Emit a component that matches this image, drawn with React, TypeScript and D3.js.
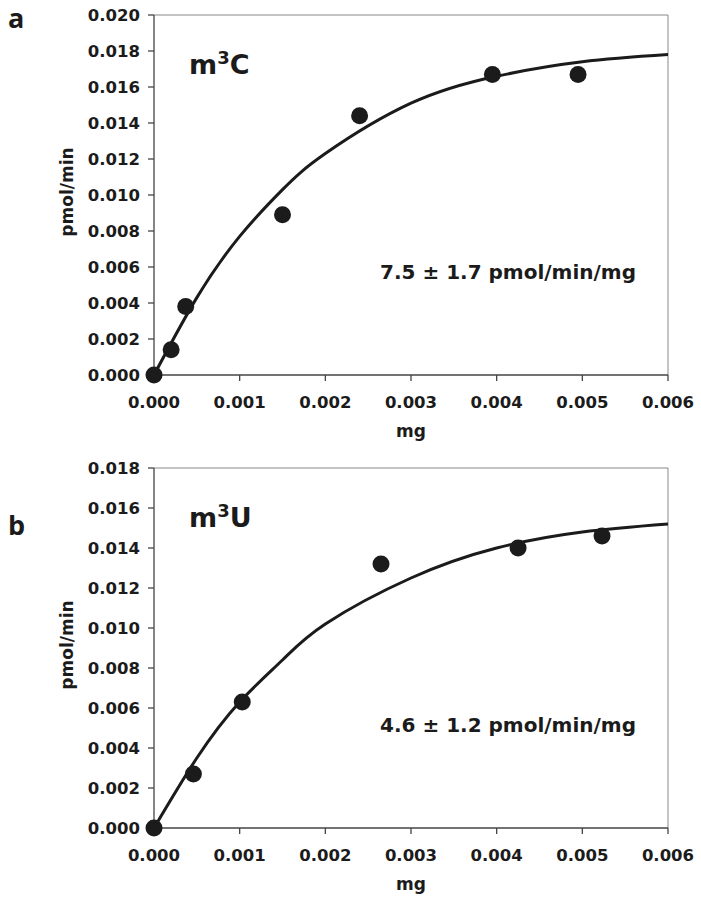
import React from "react";
import * as d3 from "d3";

// panel a: m3C
const massA = [0, 0.0002, 0.00037, 0.0015, 0.0024, 0.00395, 0.00495];
const rateA = [0, 0.0014, 0.0038, 0.0089, 0.0144, 0.0167, 0.0167];
const fitMassA = [0, 0.0005, 0.001, 0.0015, 0.002, 0.003, 0.004, 0.005, 0.006];
const fitRateA = [0, 0.0043, 0.0077, 0.0103, 0.0123, 0.0151, 0.0166, 0.0174, 0.0178];
const yTicksA = [0, 0.002, 0.004, 0.006, 0.008, 0.01, 0.012, 0.014, 0.016, 0.018, 0.02];

// panel b: m3U
const massB = [0, 0.00046, 0.00103, 0.00265, 0.00425, 0.00523];
const rateB = [0, 0.0027, 0.0063, 0.0132, 0.014, 0.0146];
const fitMassB = [0, 0.0005, 0.001, 0.0015, 0.002, 0.003, 0.004, 0.005, 0.006];
const fitRateB = [0, 0.0035, 0.0063, 0.0084, 0.0102, 0.0125, 0.014, 0.0148, 0.0152];
const yTicksB = [0, 0.002, 0.004, 0.006, 0.008, 0.01, 0.012, 0.014, 0.016, 0.018];

const xTicks = [0, 0.001, 0.002, 0.003, 0.004, 0.005, 0.006];

const FONT = "'DejaVu Sans', sans-serif";
const INK = "#1b1b1b";
const AXIS = "#444";

type PanelProps = {
  letter: string;
  letterY: number;
  label: string;
  sup: string;
  labelTail: string;
  note: string;
  mass: number[];
  rate: number[];
  fitMass: number[];
  fitRate: number[];
  yTicks: number[];
  top: number;
  bottom: number;
};

const left = 154;
const right = 668;

const Panel: React.FC<PanelProps> = (p) => {
  const x = d3.scaleLinear().domain([0, 0.006]).range([left, right]);
  const yMax = p.yTicks[p.yTicks.length - 1];
  const y = d3.scaleLinear().domain([0, yMax]).range([p.bottom, p.top]);
  const fit = p.fitMass.map((m, i) => [m, p.fitRate[i]] as [number, number]);
  const line = d3
    .line<[number, number]>()
    .x(d => x(d[0]))
    .y(d => y(d[1]))
    .curve(d3.curveNatural);
  const midY = (p.top + p.bottom) / 2;

  return (
    <g>
      <text x={8} y={p.letterY} fontFamily="'Open Sans', sans-serif" fontWeight={700} fontSize={27} fill={INK}>
        {p.letter}
      </text>
      {/* frame */}
      <line x1={left} x2={right} y1={p.top} y2={p.top} stroke="#888" strokeWidth={1} />
      <line x1={right} x2={right} y1={p.top} y2={p.bottom} stroke="#888" strokeWidth={1} />
      <line x1={left} x2={left} y1={p.top} y2={p.bottom + 0.5} stroke={AXIS} strokeWidth={1.3} />
      <line x1={left} x2={right} y1={p.bottom} y2={p.bottom} stroke={AXIS} strokeWidth={1.3} />
      {/* y ticks */}
      {p.yTicks.map(t => (
        <g key={"y" + t}>
          <line x1={left - 6} x2={left} y1={y(t)} y2={y(t)} stroke={AXIS} strokeWidth={1.3} />
          <text x={left - 14} y={y(t)} dy="0.36em" textAnchor="end" fontFamily={FONT} fontWeight={700} fontSize={16.5} fill={INK}>
            {d3.format(".3f")(t)}
          </text>
        </g>
      ))}
      {/* x ticks */}
      {xTicks.map(t => (
        <g key={"x" + t}>
          <line x1={x(t)} x2={x(t)} y1={p.bottom} y2={p.bottom + 6} stroke={AXIS} strokeWidth={1.3} />
          <text x={x(t)} y={p.bottom + 33} textAnchor="middle" fontFamily={FONT} fontWeight={700} fontSize={16.5} fill={INK}>
            {d3.format(".3f")(t)}
          </text>
        </g>
      ))}
      <text x={(left + right) / 2} y={p.bottom + 62} textAnchor="middle" fontFamily={FONT} fontWeight={700} fontSize={17} fill={INK}>
        mg
      </text>
      <text
        transform={`translate(73, ${midY - 3}) rotate(-90)`}
        textAnchor="middle"
        fontFamily={FONT}
        fontWeight={700}
        fontSize={17}
        fill={INK}
      >
        pmol/min
      </text>
      {/* fit curve */}
      <path d={line(fit) ?? ""} fill="none" stroke={INK} strokeWidth={3} />
      {p.mass.map((m, i) => (
        <circle key={i} cx={x(m)} cy={y(p.rate[i])} r={8.5} fill={INK} />
      ))}
      <text x={189} y={p.top + 59} fontFamily={FONT} fontWeight={700} fontSize={27} fill={INK}>
        {p.label}
        <tspan dy={-10} fontSize={18}>{p.sup}</tspan>
        <tspan dy={10}>{p.labelTail}</tspan>
      </text>
      <text x={508} y={p.bottom - 96} textAnchor="middle" fontFamily={FONT} fontWeight={700} fontSize={20} fill={INK}>
        {p.note}
      </text>
    </g>
  );
};

const App: React.FC = () => (
  <svg width={701} height={910} style={{ position: "absolute", left: 0, top: 0, background: "#fff" }}>
    <Panel
      letter="a"
      letterY={28}
      label="m"
      sup="3"
      labelTail="C"
      note="7.5 ± 1.7 pmol/min/mg"
      mass={massA}
      rate={rateA}
      fitMass={fitMassA}
      fitRate={fitRateA}
      yTicks={yTicksA}
      top={15}
      bottom={375}
    />
    <Panel
      letter="b"
      letterY={535}
      label="m"
      sup="3"
      labelTail="U"
      note="4.6 ± 1.2 pmol/min/mg"
      mass={massB}
      rate={rateB}
      fitMass={fitMassB}
      fitRate={fitRateB}
      yTicks={yTicksB}
      top={468}
      bottom={828}
    />
  </svg>
);

export default App;
